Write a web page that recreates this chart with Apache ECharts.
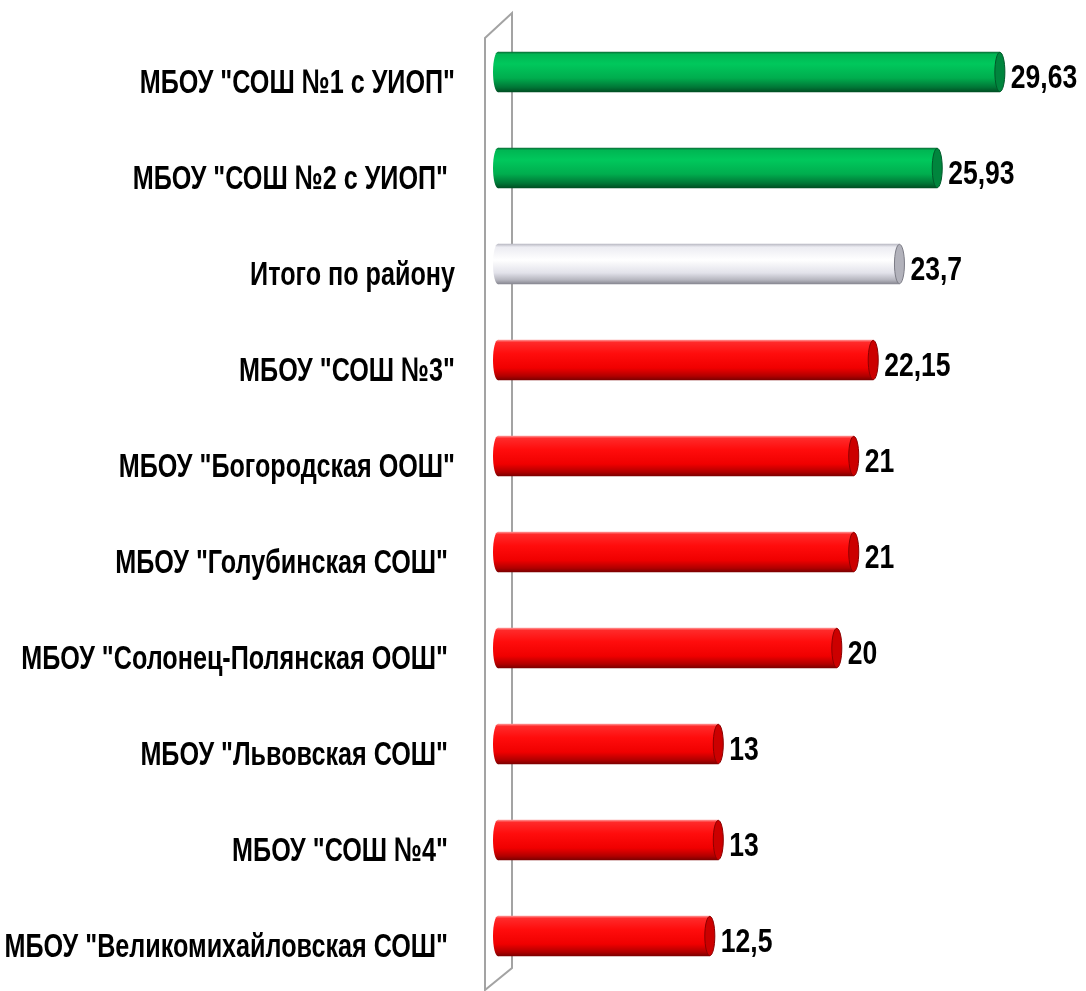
<!DOCTYPE html>
<html>
<head>
<meta charset="utf-8">
<script src="https://cdn.jsdelivr.net/npm/echarts@6/dist/echarts.min.js"></script>
<style>
  html, body { margin: 0; padding: 0; background: #fff; }
  #chart { width: 1086px; height: 991px; }
</style>
</head>
<body>
<div id="chart"></div>
<script>
// данные диаграммы (сверху вниз)
const categories = [
    'МБОУ "СОШ №1 с УИОП"',
    'МБОУ "СОШ №2 с УИОП" ',
    'Итого по району',
    'МБОУ "СОШ №3"',
    'МБОУ "Богородская ООШ"',
    'МБОУ "Голубинская СОШ" ',
    'МБОУ "Солонец-Полянская ООШ" ',
    'МБОУ "Львовская СОШ" ',
    'МБОУ "СОШ №4" ',
    'МБОУ "Великомихайловская СОШ" '
];
const values = [29.63, 25.93, 23.7, 22.15, 21, 21, 20, 13, 13, 12.5];
const totalName = 'Итого по району';

const FONT = "'Liberation Sans', Arial, sans-serif";
const GRID = { left: 493, top: 24, width: 552, height: 960 };

var myChart = echarts.init(document.getElementById('chart'));

const totalValue = values[categories.indexOf(totalName)];

function grad(stops) {
    return new echarts.graphic.LinearGradient(0, 0, 0, 1,
        stops.map(s => ({ offset: s[0], color: s[1] })));
}

const palettes = {
    green: {
        body: [[0, '#0b6b36'], [0.06, '#00b653'], [0.3, '#00c85c'], [0.65, '#00ad4e'], [0.88, '#007636'], [1, '#004d22']],
        cap: '#00853d', edge: '#00592a'
    },
    red: {
        body: [[0, '#ff9a9a'], [0.06, '#ff2a2a'], [0.35, '#ff0c0c'], [0.7, '#f00000'], [0.9, '#b00000'], [1, '#7a0000']],
        cap: '#cc0000', edge: '#8c0000'
    },
    grey: {
        body: [[0, '#b8b8c2'], [0.08, '#ececf2'], [0.4, '#ffffff'], [0.72, '#e2e2ea'], [0.9, '#b4b4bd'], [1, '#85858f']],
        cap: '#b2b2bb', edge: '#7c7c86'
    }
};

function paletteFor(idx) {
    if (categories[idx] === totalName) return palettes.grey;
    return values[idx] > totalValue ? palettes.green : palettes.red;
}

function fmt(v) {
    return String(v).replace('.', ',');
}

// узкий жирный шрифт как в исходнике
function narrowText(text, x, y, align, sx) {
    return {
        type: 'text',
        x: x,
        y: y,
        scaleX: sx,
        style: {
            text: text,
            fill: '#000',
            font: 'bold 34px ' + FONT,
            verticalAlign: 'middle',
            align: align
        }
    };
}

function renderItem(params, api) {
    const idx = params.dataIndex;
    const v = api.value(0);
    const c = api.coord([v, idx]);
    const h = api.size([0, 1])[1] * 0.42;
    const x0 = params.coordSys.x;
    const x1 = c[0];
    const rx = 5;
    const pal = paletteFor(idx);
    return {
        type: 'group',
        children: [
            {
                type: 'ellipse',
                shape: { cx: x0 + rx, cy: c[1], rx: rx, ry: h / 2 },
                style: { fill: grad(pal.body) }
            },
            {
                type: 'rect',
                shape: { x: x0 + rx, y: c[1] - h / 2, width: x1 - x0 - 2 * rx, height: h },
                style: { fill: grad(pal.body) }
            },
            {
                type: 'ellipse',
                shape: { cx: x1 - rx, cy: c[1], rx: rx, ry: h / 2 - 0.5 },
                style: { fill: pal.cap, stroke: pal.edge, lineWidth: 1 }
            },
            narrowText(fmt(v), x1 + 6, c[1] + 7, 'left', 0.78),
            narrowText(categories[idx], x0 - 38, c[1] + 12, 'right', 0.74)
        ]
    };
}

const option = {
    animation: false,
    backgroundColor: '#fff',
    grid: Object.assign({ containLabel: false, outerBoundsMode: 'none' }, GRID),
    xAxis: {
        type: 'value',
        min: -0.6,
        max: 32,
        show: false,
        splitLine: { show: false }
    },
    yAxis: {
        type: 'category',
        inverse: true,
        data: categories,
        axisLine: { show: false },
        axisTick: { show: false },
        axisLabel: { show: false }
    },
    graphic: [{
        type: 'polygon',
        z: 0,
        shape: {
            points: [
                [GRID.left - 8, GRID.top + 14],
                [GRID.left + 19, GRID.top - 11],
                [GRID.left + 19, GRID.top + GRID.height - 16],
                [GRID.left - 8, GRID.top + GRID.height + 6]
            ]
        },
        style: { fill: 'rgba(0,0,0,0)', stroke: '#a3a3a3', lineWidth: 2 }
    }],
    series: [{
        type: 'custom',
        z: 5,
        renderItem: renderItem,
        encode: { x: 0, y: 1 },
        data: values.map((v, i) => [v, i])
    }]
};

myChart.setOption(option);

window.addEventListener('resize', function() {
    myChart.resize();
});
</script>
</body>
</html>
